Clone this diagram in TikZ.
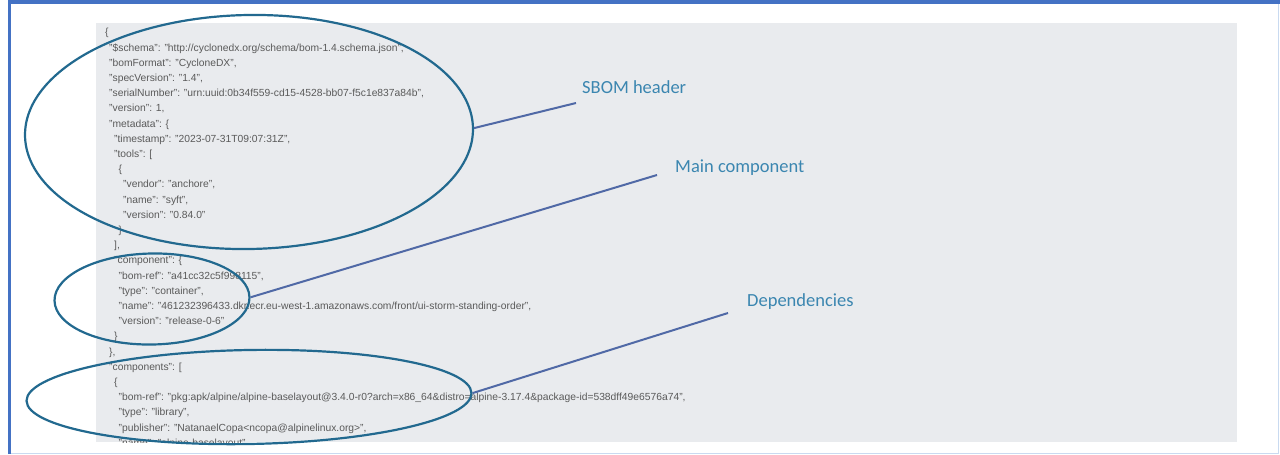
\documentclass[tikz,border=0pt]{standalone}
\usepackage{fontspec}
\setmainfont{Liberation Sans}
\newfontfamily\labelfont{Carlito}
\usetikzlibrary{shapes.geometric}

\definecolor{framedark}{HTML}{4472C4}
\definecolor{framelight}{HTML}{C9DAF0}
\definecolor{panelgrey}{HTML}{E9EBEE}
\definecolor{jsongrey}{HTML}{5A5A5A}
\definecolor{ringblue}{HTML}{22698F}
\definecolor{leaderblue}{HTML}{5069A6}
\definecolor{labelblue}{HTML}{3B86B0}

\begin{document}
\begin{tikzpicture}[
      x=1pt, y=-1pt,
      json/.style={anchor=west, inner sep=0pt, text height=7pt, text depth=2pt,
        font=\fontsize{10.3}{12}\selectfont, text=jsongrey},
      ring/.style={ellipse, draw=ringblue, line width=2.2pt, inner sep=0pt, rotate=1},
      callout/.style={anchor=west, inner sep=0pt,
        font=\labelfont\fontsize{18.5}{22}\selectfont, text=labelblue},
      leader/.style={draw=leaderblue, line width=2pt},
  ]
    \useasboundingbox (0,0) rectangle (1280,455);
    \fill[white] (0,0) rectangle (1280,455);
    \fill[panelgrey] (96,23) rectangle (1237,442);

    % frame
    \draw[framelight, line width=1.5pt] (9,453.5) -- (1278.5,453.5) -- (1278.5,2);
    \draw[framedark, line width=3.5pt] (9.5,454) -- (9.5,2) -- (1280,2);

    % json listing
    \node[json] (l0)  at (105,33.4)   {\{};
    \node[json] (l1)  at (109,48.6)   {"\$schema": "http://cyclonedx.org/schema/bom-1.4.schema.json",};
    \node[json] (l2)  at (109,63.8)   {"bomFormat": "CycloneDX",};
    \node[json] (l3)  at (109,79.0)   {"specVersion": "1.4",};
    \node[json] (l4)  at (109,94.2)   {"serialNumber": "urn:uuid:0b34f559-cd15-4528-bb07-f5c1e837a84b",};
    \node[json] (l5)  at (109,109.4)  {"version": 1,};
    \node[json] (l6)  at (109,124.6)  {"metadata": \{};
    \node[json] (l7)  at (114,139.8)  {"timestamp": "2023-07-31T09:07:31Z",};
    \node[json] (l8)  at (114,155.0)  {"tools": [};
    \node[json] (l9)  at (118.5,170.2) {\{};
    \node[json] (l10) at (123,185.4)  {"vendor": "anchore",};
    \node[json] (l11) at (123,200.6)  {"name": "syft",};
    \node[json] (l12) at (123,215.8)  {"version": "0.84.0"};
    \node[json] (l13) at (118.5,231.0) {\}};
    \node[json] (l14) at (114,246.2)  {],};
    \node[json] (l15) at (114,261.4)  {"component": \{};
    \node[json] (l16) at (118.5,276.6) {"bom-ref": "a41cc32c5f998115",};
    \node[json] (l17) at (118.5,291.8) {"type": "container",};
    \node[json] (l18) at (118.5,307.0) {"name": "461232396433.dkr.ecr.eu-west-1.amazonaws.com/front/ui-storm-standing-order",};
    \node[json] (l19) at (118.5,322.2) {"version": "release-0-6"};
    \node[json] (l20) at (114,337.4)  {\}};
    \node[json] (l21) at (109,352.6)  {\},};
    \node[json] (l22) at (109,367.8)  {"components": [};
    \node[json] (l23) at (114,383.0)  {\{};
    \node[json] (l24) at (118.5,398.2) {"bom-ref": "pkg:apk/alpine/alpine-baselayout@3.4.0-r0?arch=x86\_64\&distro=alpine-3.17.4\&package-id=538dff49e6576a74",};
    \node[json] (l25) at (118.5,413.4) {"type": "library",};
    \node[json] (l26) at (118.5,428.6) {"publisher": "NatanaelCopa<ncopa@alpinelinux.org>",};
    \begin{scope}
      \clip (96,23) rectangle (1237,442);
      \node[json] (l27) at (118.5,443.8) {"name": "alpine-baselayout",};
    \end{scope}

    % rings
    \node[ring, minimum width=448pt, minimum height=234pt] (hdr)  at (249,132) {};
    \node[ring, minimum width=195pt, minimum height=91pt]  (main) at (152,299) {};
    \node[ring, minimum width=445pt, minimum height=94pt]  (deps) at (249,397) {};

    % callouts
    \node[callout] (hdrlbl)  at (582,87)  {SBOM header};
    \node[callout] (mainlbl) at (675,168) {Main component};
    \node[callout] (depslbl) at (747,302) {Dependencies};

    \coordinate (hdrtip)  at (576,103);
    \coordinate (maintip) at (657,175);
    \coordinate (depstip) at (728,313);

    \draw[leader] (hdr.east)  -- (hdrtip);
    \draw[leader] (main.east) -- (maintip);
    \draw[leader] (deps.east) -- (depstip);
  \end{tikzpicture}
\end{document}
